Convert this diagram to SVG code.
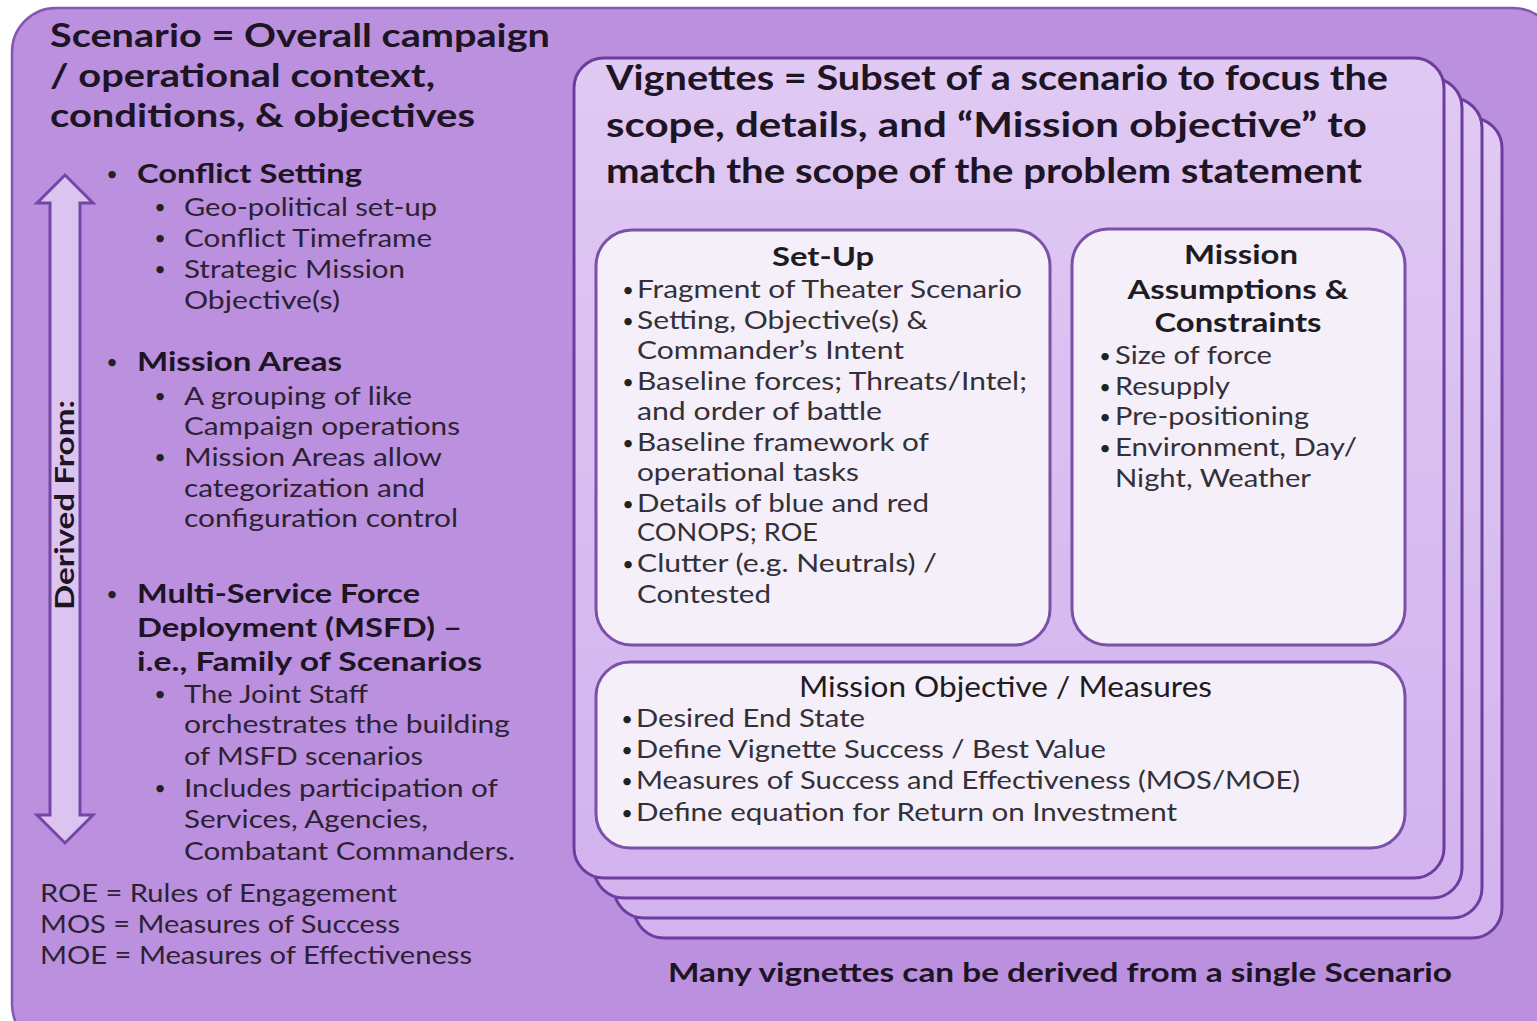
<svg xmlns="http://www.w3.org/2000/svg" width="1537" height="1021" viewBox="0 0 1537 1021">
  <defs>
    <linearGradient id="cardFill" x1="0" y1="0" x2="0" y2="1">
      <stop offset="0" stop-color="#e0c9f3"/>
      <stop offset="1" stop-color="#d2b3ee"/>
    </linearGradient>
    <style>
      .outer { fill: #bb90df; stroke: #8457b4; stroke-width: 2.5; }
      .card { fill: url(#cardFill); stroke: #6c3c9e; stroke-width: 3; }
      .box { fill: #f4eff8; stroke: #7a50a8; stroke-width: 3; }
      .arrow { fill: #dcc4f0; stroke: #7447a6; stroke-width: 3; stroke-linejoin: miter; }
      text { font-family: Lato, "Open Sans", "Liberation Sans", sans-serif; }
      .h1 { font-size: 32px; font-weight: 700; fill: #1d1424; }
      .h2 { font-size: 27px; font-weight: 700; fill: #1d1424; }
      .it { font-size: 25px; fill: #2c2233; }
      .bt { font-size: 25px; fill: #333038; }
      .bh { font-size: 27px; font-weight: 700; fill: #1f1b22; }
      .bl { font-size: 20px; fill: #222; text-anchor: middle; }
      .vh { font-size: 34px; font-weight: 700; fill: #1d1424; }
    </style>
  </defs>

  <rect width="1537" height="1021" fill="#ffffff"/>

  <!-- Scenario frame -->
  <g id="scenario">
    <rect class="outer" x="12" y="8" width="1545" height="1040" rx="44"/>
    <text class="h1" x="50" y="47" textLength="500" lengthAdjust="spacingAndGlyphs">Scenario = Overall campaign</text>
    <text class="h1" x="50" y="87" textLength="385" lengthAdjust="spacingAndGlyphs">/ operational context,</text>
    <text class="h1" x="50" y="127" textLength="425" lengthAdjust="spacingAndGlyphs">conditions, &amp; objectives</text>

    <text class="bl" x="112" y="181">•</text>
    <text class="h2" x="137" y="183" textLength="225" lengthAdjust="spacingAndGlyphs">Conflict Setting</text>
    <text class="bl" x="160" y="214">•</text>
    <text class="it" x="184" y="216" textLength="253" lengthAdjust="spacingAndGlyphs">Geo-political set-up</text>
    <text class="bl" x="160" y="245">•</text>
    <text class="it" x="184" y="247" textLength="248" lengthAdjust="spacingAndGlyphs">Conflict Timeframe</text>
    <text class="bl" x="160" y="276">•</text>
    <text class="it" x="184" y="278" textLength="221" lengthAdjust="spacingAndGlyphs">Strategic Mission</text>
    <text class="it" x="184" y="309" textLength="156" lengthAdjust="spacingAndGlyphs">Objective(s)</text>

    <text class="bl" x="112" y="369">•</text>
    <text class="h2" x="137" y="371" textLength="205" lengthAdjust="spacingAndGlyphs">Mission Areas</text>
    <text class="bl" x="160" y="403">•</text>
    <text class="it" x="184" y="405" textLength="228" lengthAdjust="spacingAndGlyphs">A grouping of like</text>
    <text class="it" x="184" y="435" textLength="276" lengthAdjust="spacingAndGlyphs">Campaign operations</text>
    <text class="bl" x="160" y="464">•</text>
    <text class="it" x="184" y="466" textLength="258" lengthAdjust="spacingAndGlyphs">Mission Areas allow</text>
    <text class="it" x="184" y="497" textLength="241" lengthAdjust="spacingAndGlyphs">categorization and</text>
    <text class="it" x="184" y="527" textLength="274" lengthAdjust="spacingAndGlyphs">configuration control</text>

    <text class="bl" x="112" y="601">•</text>
    <text class="h2" x="137" y="603" textLength="283" lengthAdjust="spacingAndGlyphs">Multi-Service Force</text>
    <text class="h2" x="137" y="637" textLength="325" lengthAdjust="spacingAndGlyphs">Deployment (MSFD) –</text>
    <text class="h2" x="137" y="671" textLength="345" lengthAdjust="spacingAndGlyphs">i.e., Family of Scenarios</text>
    <text class="bl" x="160" y="701">•</text>
    <text class="it" x="184" y="703" textLength="184" lengthAdjust="spacingAndGlyphs">The Joint Staff</text>
    <text class="it" x="184" y="733" textLength="326" lengthAdjust="spacingAndGlyphs">orchestrates the building</text>
    <text class="it" x="184" y="765" textLength="239" lengthAdjust="spacingAndGlyphs">of MSFD scenarios</text>
    <text class="bl" x="160" y="795">•</text>
    <text class="it" x="184" y="797" textLength="314" lengthAdjust="spacingAndGlyphs">Includes participation of</text>
    <text class="it" x="184" y="828" textLength="244" lengthAdjust="spacingAndGlyphs">Services, Agencies,</text>
    <text class="it" x="184" y="860" textLength="331" lengthAdjust="spacingAndGlyphs">Combatant Commanders.</text>

    <text class="it" x="40" y="902" textLength="357" lengthAdjust="spacingAndGlyphs">ROE = Rules of Engagement</text>
    <text class="it" x="40" y="933" textLength="360" lengthAdjust="spacingAndGlyphs">MOS = Measures of Success</text>
    <text class="it" x="40" y="964" textLength="432" lengthAdjust="spacingAndGlyphs">MOE = Measures of Effectiveness</text>
  </g>

  <!-- Connectors: the two-way "derived from" block arrow -->
  <g id="connectors">
    <path class="arrow" d="M65,175 L93,203 L80,203 L80,815 L93,815 L65,843 L37,815 L50,815 L50,203 L37,203 Z"/>
    <text class="h2" transform="translate(74,505) rotate(-90)" text-anchor="middle" textLength="210" lengthAdjust="spacingAndGlyphs">Derived From:</text>
  </g>

  <!-- Stack of vignette cards, back to front -->
  <g id="vignette-stack">
    <rect class="card" x="634" y="118" width="868" height="820" rx="30"/>
    <rect class="card" x="614" y="98" width="868" height="820" rx="30"/>
    <rect class="card" x="594" y="78" width="868" height="820" rx="30"/>
  </g>

  <g id="vignette">
    <rect class="card" x="574" y="58" width="870" height="820" rx="30"/>
    <text class="vh" x="606" y="90" textLength="782" lengthAdjust="spacingAndGlyphs">Vignettes = Subset of a scenario to focus the</text>
    <text class="vh" x="606" y="137" textLength="761" lengthAdjust="spacingAndGlyphs">scope, details, and “Mission objective” to</text>
    <text class="vh" x="606" y="183" textLength="756" lengthAdjust="spacingAndGlyphs">match the scope of the problem statement</text>
  </g>

  <g id="setup">
    <rect class="box" x="596" y="230" width="454" height="415" rx="36"/>
    <text class="bh" x="823" y="266" text-anchor="middle" textLength="102" lengthAdjust="spacingAndGlyphs">Set-Up</text>
    <text class="bl" x="628" y="297">•</text>
    <text class="bt" x="637" y="298" textLength="385" lengthAdjust="spacingAndGlyphs">Fragment of Theater Scenario</text>
    <text class="bl" x="628" y="328">•</text>
    <text class="bt" x="637" y="329" textLength="291" lengthAdjust="spacingAndGlyphs">Setting, Objective(s) &amp;</text>
    <text class="bt" x="637" y="359" textLength="267" lengthAdjust="spacingAndGlyphs">Commander’s Intent</text>
    <text class="bl" x="628" y="389">•</text>
    <text class="bt" x="637" y="390" textLength="390" lengthAdjust="spacingAndGlyphs">Baseline forces; Threats/Intel;</text>
    <text class="bt" x="637" y="420" textLength="245" lengthAdjust="spacingAndGlyphs">and order of battle</text>
    <text class="bl" x="628" y="450">•</text>
    <text class="bt" x="637" y="451" textLength="292" lengthAdjust="spacingAndGlyphs">Baseline framework of</text>
    <text class="bt" x="637" y="481" textLength="222" lengthAdjust="spacingAndGlyphs">operational tasks</text>
    <text class="bl" x="628" y="511">•</text>
    <text class="bt" x="637" y="512" textLength="292" lengthAdjust="spacingAndGlyphs">Details of blue and red</text>
    <text class="bt" x="637" y="541" textLength="181" lengthAdjust="spacingAndGlyphs">CONOPS; ROE</text>
    <text class="bl" x="628" y="571">•</text>
    <text class="bt" x="637" y="572" textLength="300" lengthAdjust="spacingAndGlyphs">Clutter (e.g. Neutrals) /</text>
    <text class="bt" x="637" y="603" textLength="134" lengthAdjust="spacingAndGlyphs">Contested</text>
  </g>

  <g id="assumptions">
    <rect class="box" x="1072" y="229" width="333" height="416" rx="36"/>
    <text class="bh" x="1241" y="264" text-anchor="middle" textLength="114" lengthAdjust="spacingAndGlyphs">Mission</text>
    <text class="bh" x="1238" y="299" text-anchor="middle" textLength="221" lengthAdjust="spacingAndGlyphs">Assumptions &amp;</text>
    <text class="bh" x="1238" y="332" text-anchor="middle" textLength="167" lengthAdjust="spacingAndGlyphs">Constraints</text>
    <text class="bl" x="1105" y="363">•</text>
    <text class="bt" x="1115" y="364" textLength="157" lengthAdjust="spacingAndGlyphs">Size of force</text>
    <text class="bl" x="1105" y="394">•</text>
    <text class="bt" x="1115" y="395" textLength="115" lengthAdjust="spacingAndGlyphs">Resupply</text>
    <text class="bl" x="1105" y="424">•</text>
    <text class="bt" x="1115" y="425" textLength="194" lengthAdjust="spacingAndGlyphs">Pre-positioning</text>
    <text class="bl" x="1105" y="455">•</text>
    <text class="bt" x="1115" y="456" textLength="242" lengthAdjust="spacingAndGlyphs">Environment, Day/</text>
    <text class="bt" x="1115" y="487" textLength="196" lengthAdjust="spacingAndGlyphs">Night, Weather</text>
  </g>

  <g id="objective">
    <rect class="box" x="596" y="662" width="809" height="186" rx="34"/>
    <text class="bt" x="799" y="697" style="font-size:28px;fill:#1f1b22" textLength="413" lengthAdjust="spacingAndGlyphs">Mission Objective / Measures</text>
    <text class="bl" x="627" y="726">•</text>
    <text class="bt" x="636" y="727" textLength="229" lengthAdjust="spacingAndGlyphs">Desired End State</text>
    <text class="bl" x="627" y="757">•</text>
    <text class="bt" x="636" y="758" textLength="470" lengthAdjust="spacingAndGlyphs">Define Vignette Success / Best Value</text>
    <text class="bl" x="627" y="788">•</text>
    <text class="bt" x="636" y="789" textLength="664" lengthAdjust="spacingAndGlyphs">Measures of Success and Effectiveness (MOS/MOE)</text>
    <text class="bl" x="627" y="820">•</text>
    <text class="bt" x="636" y="821" textLength="541" lengthAdjust="spacingAndGlyphs">Define equation for Return on Investment</text>
  </g>

  <g id="footnote">
    <text class="h2" x="668" y="982" textLength="784" lengthAdjust="spacingAndGlyphs">Many vignettes can be derived from a single Scenario</text>
  </g>
</svg>
